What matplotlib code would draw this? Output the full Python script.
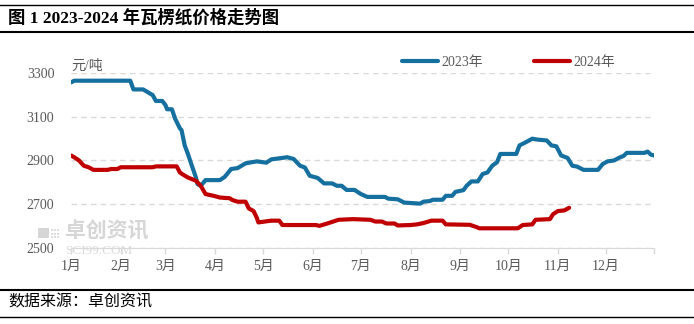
import datetime as dt
import matplotlib
matplotlib.use('Agg')
import matplotlib.pyplot as plt
from matplotlib.lines import Line2D
from matplotlib.patches import Rectangle

plt.rcParams['font.family'] = ['Liberation Serif', 'Noto Sans CJK SC', 'DejaVu Sans']

# 数据
dates_2023 = ['01-01', '01-03', '02-07', '02-09', '02-15', '02-21', '02-23', '02-27', '03-01', '03-02',
              '03-05', '03-07', '03-10', '03-11', '03-13', '03-15', '03-17', '03-20', '03-21', '03-23',
              '03-26', '04-04', '04-07', '04-11', '04-15', '04-20', '04-27', '05-03', '05-06', '05-16',
              '05-20', '05-24', '05-27', '05-30', '06-04', '06-08', '06-13', '06-16', '06-19', '06-22',
              '06-27', '07-01', '07-05', '07-16', '07-18', '07-24', '07-28', '08-07', '08-09', '08-13',
              '08-15', '08-21', '08-23', '08-27', '08-29', '09-03', '09-05', '09-08', '09-12', '09-15',
              '09-18', '09-21', '09-24', '09-26', '10-06', '10-08', '10-12', '10-16', '10-19', '10-25',
              '10-28', '10-31', '11-03', '11-07', '11-10', '11-13', '11-17', '11-26', '11-29', '12-02',
              '12-06', '12-09', '12-12', '12-14', '12-25', '12-27', '12-29', '12-31']
price_2023 = [3258, 3266, 3266, 3226, 3226, 3200, 3173, 3173, 3154, 3135,
              3135, 3092, 3047, 3040, 2969, 2930, 2886, 2822, 2792, 2784,
              2810, 2810, 2825, 2861, 2865, 2887, 2896, 2890, 2905, 2915,
              2907, 2876, 2868, 2830, 2820, 2795, 2795, 2784, 2784, 2765,
              2765, 2746, 2733, 2733, 2725, 2722, 2707, 2702, 2711, 2714,
              2720, 2720, 2738, 2738, 2756, 2764, 2784, 2804, 2804, 2838,
              2845, 2876, 2892, 2930, 2930, 2969, 2984, 3000, 2996, 2992,
              2969, 2965, 2923, 2912, 2876, 2872, 2857, 2857, 2884, 2896,
              2900, 2912, 2921, 2935, 2935, 2941, 2927, 2923]

dates_2024 = ['01-01', '01-03', '01-06', '01-09', '01-12', '01-15', '01-24', '01-26', '01-30', '02-01',
              '02-21', '02-23', '03-08', '03-10', '03-12', '03-15', '03-20', '03-23', '03-26', '03-31',
              '04-04', '04-10', '04-12', '04-15', '04-20', '04-22', '04-25', '04-27', '04-28', '05-06',
              '05-11', '05-13', '06-03', '06-05', '06-10', '06-17', '06-26', '07-07', '07-10', '07-14',
              '07-17', '07-22', '07-24', '08-01', '08-05', '08-09', '08-14', '08-21', '08-23', '09-07',
              '09-11', '09-13', '10-07', '10-10', '10-16', '10-18', '10-27', '10-29', '11-01', '11-05',
              '11-08']
price_2024 = [2923, 2915, 2900, 2876, 2869, 2857, 2857, 2861, 2861, 2869,
              2869, 2873, 2873, 2845, 2835, 2822, 2807, 2784, 2746, 2738,
              2730, 2727, 2718, 2711, 2711, 2680, 2668, 2637, 2616, 2624,
              2624, 2604, 2604, 2600, 2611, 2628, 2631, 2628, 2620, 2620,
              2611, 2611, 2602, 2604, 2607, 2613, 2624, 2624, 2607, 2605,
              2595, 2589, 2589, 2604, 2607, 2628, 2631, 2654, 2668, 2671,
              2683]

month_labels = ['1月', '2月', '3月', '4月', '5月', '6月', '7月', '8月', '9月', '10月', '11月', '12月']


def to_dates(md):
    # 两年画在同一条月份轴上
    return [dt.datetime.strptime('2023-' + s, '%Y-%m-%d') for s in md]


fig = plt.figure(figsize=(6.94, 3.24), dpi=100)
ax = fig.add_axes([0.1023, 0.2355, 0.8401, 0.5383])

ax.plot(to_dates(dates_2023), price_2023, color='#1570a0', lw=3, solid_capstyle='round',
        solid_joinstyle='round', label='2023年')
ax.plot(to_dates(dates_2024), price_2024, color='#c00000', lw=3, solid_capstyle='round',
        solid_joinstyle='round', label='2024年')

ax.set_xlim(dt.datetime(2023, 1, 1), dt.datetime(2023, 12, 31))
ax.set_ylim(2500, 3300)
ax.set_yticks(range(2500, 3301, 200))

month_starts = [dt.datetime(2023, m, 1) for m in range(1, 13)]
ax.set_xticks(month_starts + [dt.datetime(2023, 12, 31)])
ax.set_xticklabels(month_labels + [''])

ax.grid(axis='y', ls=(0, (4, 3)), color='#d9d9d9', lw=1)
ax.set_axisbelow(True)
for s in ['top', 'left', 'right']:
    ax.spines[s].set_visible(False)
ax.spines['bottom'].set_color('#d9d9d9')
ax.tick_params(axis='y', length=0, pad=12, labelsize=10, labelcolor='#595959')
ax.tick_params(axis='x', length=4, width=1, color='#d9d9d9', pad=5, labelsize=10,
               labelcolor='#595959')

ax.text(0.0, 1.0, '元/吨', transform=ax.transAxes, ha='left', va='bottom',
        fontsize=10, color='#595959')

leg = ax.legend(loc='center left', bbox_to_anchor=(0.568, 1.063), ncol=2, frameon=False,
                fontsize=10, handlelength=2.6, handletextpad=0.2, columnspacing=3.7,
                borderaxespad=0, borderpad=0)
for t in leg.get_texts():
    t.set_color('#595959')

# 水印
fig.add_artist(Rectangle((38 / 694, 1 - 238 / 324), 11 / 694, 10 / 324, color='#d6d6d6',
                         transform=fig.transFigure, lw=0))
for i in range(3):
    for j in range(3):
        fig.add_artist(Rectangle(((51 + 3 * i) / 694, 1 - (238 - 3.3 * j) / 324), 2 / 694, 2 / 324,
                                 color='#dcdcdc', transform=fig.transFigure, lw=0))
fig.text(65 / 694, 1 - 232 / 324, '卓创资讯', fontsize=15, color='#d6d6d6', ha='left', va='center',
         fontweight='bold')
fig.text(65 / 694, 1 - 250.5 / 324, 'SCI99.COM', fontsize=9.5, color='#dadada', ha='left', va='center')

# 标题和来源
fig.text(0.012, 0.945, '图 1 2023-2024 年瓦楞纸价格走势图', fontsize=12.5, fontweight='bold',
         ha='left', va='center', color='black')
fig.text(0.012, 0.065, '数据来源：卓创资讯', fontsize=11.5, ha='left', va='center', color='black')

for y, w in [(1 - 5 / 324, 1.0), (1 - 32 / 324, 1.5), (1 - 290 / 324, 1.5), (1 - 317 / 324, 1.0)]:
    fig.add_artist(Line2D([0, 1], [y, y], color='black', lw=w, transform=fig.transFigure))

fig.savefig('out.png', dpi=100)
